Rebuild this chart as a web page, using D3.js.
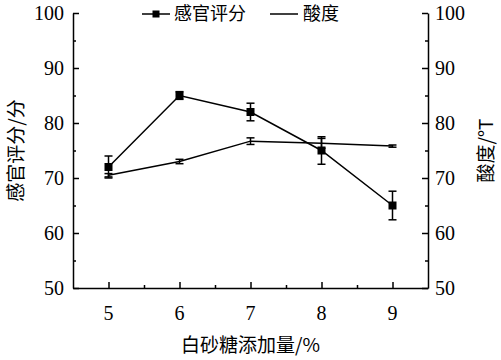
<!DOCTYPE html>
<html>
<head>
<meta charset="utf-8">
<script src="https://cdn.jsdelivr.net/npm/d3@7"></script>
<style>
  body { margin: 0; background: #fff; }
  svg { display: block; }
</style>
</head>
<body>
<svg id="chart"></svg>
<script>
// sugar addition (%)
const sugar = [5, 6, 7, 8, 9];
// sensory score and its error
const score = [72, 85, 82, 75, 65];
const scoreErr = [2, 0.7, 1.6, 2.5, 2.6];
// acidity (°T) and its error
const acidity = [70.5, 73, 76.7, 76.3, 75.8];
const acidityErr = [0.3, 0.4, 0.6, 0.9, 0.2];

const yTicks = [50, 60, 70, 80, 90, 100];
const xTicks = [5, 6, 7, 8, 9];

const serifFont = 'Liberation Serif';
const cjkFont = 'Noto Sans CJK SC';

function drawChart() {
  const width = 501, height = 360;
  const margin = {top: 13, right: 73, bottom: 72, left: 73};

  const svg = d3.select('#chart')
      .attr('width', width)
      .attr('height', height);

  const x = d3.scaleLinear()
      .domain([4.5, 9.5])
      .range([margin.left, width - margin.right]);

  const yL = d3.scaleLinear()
      .domain([50, 100])
      .range([height - margin.bottom, margin.top]);

  const yR = d3.scaleLinear()
      .domain([50, 100])
      .range([height - margin.bottom, margin.top]);

  // axes, ticks pointing inward
  svg.append('g')
      .attr('transform', `translate(0,${height - margin.bottom})`)
      .call(d3.axisTop(x).tickValues(xTicks).tickSize(6).tickSizeOuter(0).tickFormat(''));
  svg.append('g')
      .attr('transform', `translate(0,${height - margin.bottom})`)
      .call(d3.axisTop(x).tickValues([5.5, 6.5, 7.5, 8.5]).tickSize(3).tickSizeOuter(0).tickFormat(''))
      .call(g => g.select('.domain').remove());

  svg.append('g')
      .attr('transform', `translate(${margin.left},0)`)
      .call(d3.axisRight(yL).tickValues(yTicks).tickSize(6).tickSizeOuter(0).tickFormat(''));
  svg.append('g')
      .attr('transform', `translate(${margin.left},0)`)
      .call(d3.axisRight(yL).tickValues([55, 65, 75, 85, 95]).tickSize(3).tickSizeOuter(0).tickFormat(''))
      .call(g => g.select('.domain').remove());

  svg.append('g')
      .attr('transform', `translate(${width - margin.right},0)`)
      .call(d3.axisLeft(yR).tickValues(yTicks).tickSize(6).tickSizeOuter(0).tickFormat(''));
  svg.append('g')
      .attr('transform', `translate(${width - margin.right},0)`)
      .call(d3.axisLeft(yR).tickValues([55, 65, 75, 85, 95]).tickSize(3).tickSizeOuter(0).tickFormat(''))
      .call(g => g.select('.domain').remove());

  svg.selectAll('.domain, .tick line')
      .attr('stroke', '#000')
      .attr('stroke-width', 1.5);

  // tick labels (serif)
  const labels = svg.append('g')
      .attr('font-family', serifFont)
      .attr('font-size', 20)
      .attr('fill', '#000');

  labels.selectAll('.x-lab')
      .data(xTicks)
      .join('text')
      .attr('x', d => x(d))
      .attr('y', height - margin.bottom + 25)
      .attr('dy', '0.35em')
      .attr('text-anchor', 'middle')
      .text(d => d);

  labels.selectAll('.yl-lab')
      .data(yTicks)
      .join('text')
      .attr('x', margin.left - 9)
      .attr('y', d => yL(d))
      .attr('dy', '0.35em')
      .attr('text-anchor', 'end')
      .text(d => d);

  labels.selectAll('.yr-lab')
      .data(yTicks)
      .join('text')
      .attr('x', width - margin.right + 7)
      .attr('y', d => yR(d))
      .attr('dy', '0.35em')
      .attr('text-anchor', 'start')
      .text(d => d);

  // axis titles
  const titles = svg.append('g')
      .attr('font-family', cjkFont)
      .attr('font-size', 19)
      .attr('fill', '#000')
      .attr('text-anchor', 'middle');

  titles.append('text')
      .attr('dy', '0.35em')
      .attr('transform', `translate(16,${(margin.top + height - margin.bottom) / 2}) rotate(-90)`)
      .text('感官评分/分');

  titles.append('text')
      .attr('dy', '0.35em')
      .attr('transform', `translate(486,${(margin.top + height - margin.bottom) / 2}) rotate(-90)`)
      .text('酸度/°T');

  titles.append('text')
      .attr('dy', '0.35em')
      .attr('x', (margin.left + width - margin.right) / 2)
      .attr('y', 345)
      .text('白砂糖添加量/%');

  // series
  const scoreData = sugar.map((s, i) => ({x: s, y: score[i], e: scoreErr[i]}));
  const acidData = sugar.map((s, i) => ({x: s, y: acidity[i], e: acidityErr[i]}));

  function drawSeries(data, yScale, markers) {
    const g = svg.append('g');
    g.append('path')
        .datum(data)
        .attr('fill', 'none')
        .attr('stroke', '#000')
        .attr('stroke-width', 1.5)
        .attr('d', d3.line().x(d => x(d.x)).y(d => yScale(d.y)));

    const eb = g.selectAll('.err')
        .data(data)
        .join('g');
    eb.append('line')
        .attr('x1', d => x(d.x)).attr('x2', d => x(d.x))
        .attr('y1', d => yScale(d.y - d.e)).attr('y2', d => yScale(d.y + d.e))
        .attr('stroke', '#000').attr('stroke-width', 1.5);
    eb.selectAll('.cap')
        .data(d => [d.y - d.e, d.y + d.e].map(v => ({x: d.x, v})))
        .join('line')
        .attr('x1', d => x(d.x) - 4).attr('x2', d => x(d.x) + 4)
        .attr('y1', d => yScale(d.v)).attr('y2', d => yScale(d.v))
        .attr('stroke', '#000').attr('stroke-width', 1.5);

    if (markers) {
      g.selectAll('rect')
          .data(data)
          .join('rect')
          .attr('x', d => x(d.x) - 4)
          .attr('y', d => yScale(d.y) - 4)
          .attr('width', 8)
          .attr('height', 8)
          .attr('fill', '#000');
    }
  }

  drawSeries(acidData, yR, false);
  drawSeries(scoreData, yL, true);

  // legend
  const leg = svg.append('g')
      .attr('font-family', cjkFont)
      .attr('font-size', 18)
      .attr('fill', '#000');
  leg.append('line')
      .attr('x1', 142).attr('x2', 170).attr('y1', 14).attr('y2', 14)
      .attr('stroke', '#000').attr('stroke-width', 1.5);
  leg.append('rect')
      .attr('x', 152.5).attr('y', 10.5).attr('width', 7).attr('height', 7);
  leg.append('text')
      .attr('dy', '0.35em')
      .attr('x', 174).attr('y', 14)
      .text('感官评分');
  leg.append('line')
      .attr('x1', 270).attr('x2', 298).attr('y1', 14).attr('y2', 14)
      .attr('stroke', '#000').attr('stroke-width', 1.5);
  leg.append('text')
      .attr('dy', '0.35em')
      .attr('x', 303).attr('y', 14)
      .text('酸度');
}

drawChart();
</script>
</body>
</html>
